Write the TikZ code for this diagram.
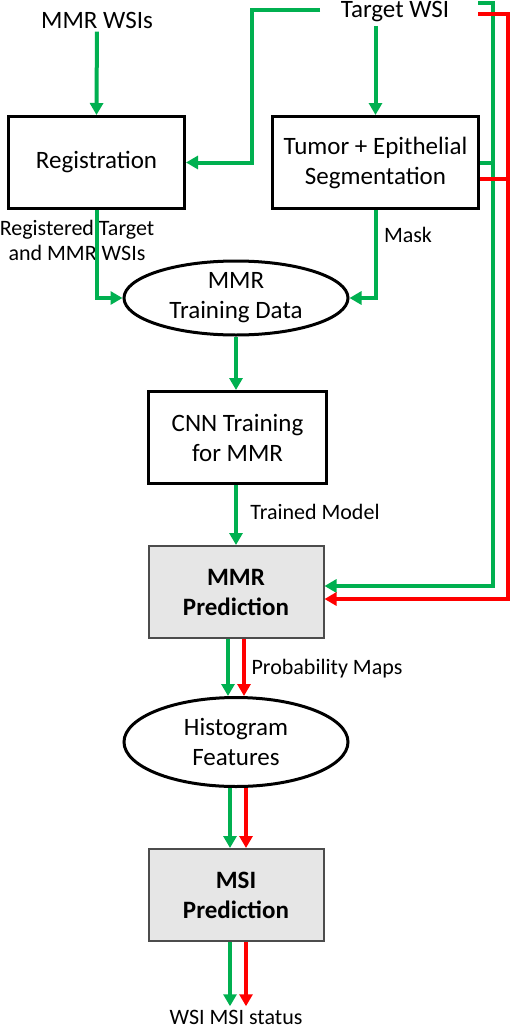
\documentclass[tikz,border=0pt]{standalone}
\usepackage{fontspec}
\setmainfont{Carlito}
\usepackage{tikz}
\usetikzlibrary{positioning,arrows.meta,shapes.geometric}
\definecolor{FlowGreen}{RGB}{0,176,80}
\definecolor{FlowRed}{RGB}{255,0,0}
\definecolor{PredGray}{RGB}{230,230,230}

\tikzset{
  procbox/.style={draw=black, line width=3pt, minimum width=176pt, minimum height=92pt, align=center, font=\fontsize{25}{30}\selectfont},
  predbox/.style={draw=black!70, line width=2pt, fill=PredGray, minimum width=175pt, minimum height=92pt, align=center, font=\fontsize{25}{30}\selectfont\bfseries},
  dataell/.style={ellipse, draw=black, line width=3pt, inner sep=0pt, align=center, font=\fontsize{25}{30}\selectfont},
  lbl/.style={font=\fontsize{22}{25}\selectfont, align=center},
  gline/.style={draw=FlowGreen, line width=4pt},
  rline/.style={draw=FlowRed, line width=4pt},
  flowtip/.style={-{Triangle[length=12pt,width=13pt]}}
}

\begin{document}
\begin{tikzpicture}[x=1pt,y=-1pt]
    \useasboundingbox (0,0) rectangle (512,1028);
    % inputs
    \node[font=\fontsize{25}{30}\selectfont] (mmrin) at (97,20) {MMR WSIs};
    \node[font=\fontsize{25}{30}\selectfont] (tgt) at (395,12) {Target WSI};
    % boxes
    \node[procbox] (reg) at (96.5,162.5) {Registration};
    \node[procbox, minimum width=206pt] (seg) at (375.5,162.5) {Tumor + Epithelial\\Segmentation};
    \node[dataell, minimum width=224pt, minimum height=74pt] (train) at (236,298) {MMR\\Training Data};
    \node[procbox, minimum width=178pt] (cnn) at (237.5,437.5) {CNN Training\\for MMR};
    \node[predbox] (pred1) at (236,592) {MMR\\Prediction};
    \node[dataell, minimum width=224pt, minimum height=89pt] (hist) at (236,742) {Histogram\\Features};
    \node[predbox] (pred2) at (236,895) {MSI\\Prediction};
    \node[lbl] (status) at (236,1017) {WSI MSI status};
    % labels
    \node[lbl] (regout) at (77,240) {Registered Target\\and MMR WSIs};
    \node[lbl] (mask) at (408,235) {Mask};
    \node[lbl] (model) at (315,512) {Trained Model};
    \node[lbl] (prob) at (327,669) {Probability Maps};
    % bends
    \coordinate (tgtL) at (320,10);
    \coordinate (bendL) at (252,10);
    \coordinate (tgtG) at (478,3);
    \coordinate (busG) at (493,3);
    \coordinate (tgtR) at (478,14);
    \coordinate (busR) at (508,14);

    \draw[gline,flowtip] (mmrin) -- (reg.north);
    \draw[gline,flowtip] (tgt.south -| seg.north) -- (seg.north);
    \draw[gline,flowtip] (tgtL) -- (bendL) |- (reg.east);
    \draw[gline,flowtip] (tgtG) -- (busG) |- ([yshift=6pt]pred1.east);
    \draw[rline,flowtip] (tgtR) -- (busR) |- ([yshift=-7pt]pred1.east);
    \draw[gline] (seg.east) -- (seg.east -| busG);
    \draw[rline] ([yshift=-16pt]seg.east) -- ([yshift=-16pt]seg.east -| busR);
    \draw[gline,flowtip] (reg.south) |- (train.west);
    \draw[gline,flowtip] (seg.south) |- (train.east);
    \draw[gline,flowtip] (train.south) -- (train.south |- cnn.north);
    \draw[gline,flowtip] (cnn.south -| pred1.north) -- (pred1.north);
    \draw[gline,flowtip] ([xshift=-8pt]pred1.south) -- ([xshift=-8pt]pred1.south |- hist.north);
    \draw[rline,flowtip] ([xshift=8pt]pred1.south) -- ([xshift=8pt]pred1.south |- hist.north);
    \draw[gline,flowtip] ([xshift=-6pt]hist.south) -- ([xshift=-6pt]hist.south |- pred2.north);
    \draw[rline,flowtip] ([xshift=10pt]hist.south) -- ([xshift=10pt]hist.south |- pred2.north);
    \draw[gline,flowtip] ([xshift=-6pt]pred2.south) -- ([xshift=-6pt]pred2.south |- status.north);
    \draw[rline,flowtip] ([xshift=10pt]pred2.south) -- ([xshift=10pt]pred2.south |- status.north);
\end{tikzpicture}
\end{document}
